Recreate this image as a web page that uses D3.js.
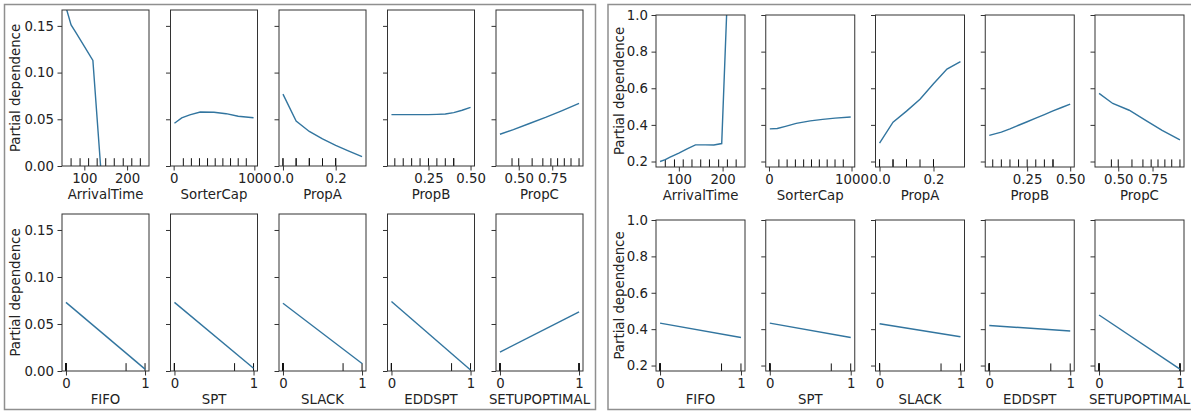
<!DOCTYPE html>
<html>
<head>
<meta charset="utf-8">
<script src="https://cdn.jsdelivr.net/npm/d3@7"></script>
<style>
  body { margin: 0; background: #fff; }
  text { font-family: "DejaVu Sans", sans-serif; fill: #222; }
  .tick text { font-size: 13.3px; }
  .tick line { stroke: #333; }
</style>
</head>
<body>
<div class="chart"></div>
<script>
const width = 1191, height = 412;

const features = ["ArrivalTime", "SorterCap", "PropA", "PropB", "PropC",
  "FIFO", "SPT", "SLACK", "EDDSPT", "SETUPOPTIMAL"];

// grid values (x) per feature
const gridArrival = [57, 69, 80, 100, 120, 138, 160, 180, 198, 210, 242];
const gridSorter = [10, 100, 200, 330, 500, 650, 800, 990];
const gridPropA = [0, 0.05, 0.1, 0.15, 0.2, 0.25, 0.3];
const gridPropB = [0.03, 0.1, 0.15, 0.2, 0.25, 0.3, 0.35, 0.4, 0.45, 0.5];
const gridPropC = [0.36, 0.46, 0.58, 0.7, 0.82, 0.95];
const gridBinary = [0, 1];

// partial dependence, left panel
const pdArrivalL = [0.17, 0.151, 0.143, 0.128, 0.113, 0.0, -0.03, -0.04, -0.05, -0.05, -0.06];
const pdSorterL = [0.0457, 0.0515, 0.0548, 0.0578, 0.0575, 0.056, 0.0532, 0.0517];
const pdPropAL = [0.077, 0.048, 0.037, 0.029, 0.022, 0.016, 0.01];
const pdPropBL = [0.055, 0.055, 0.055, 0.055, 0.055, 0.0553, 0.0557, 0.0572, 0.0597, 0.0628];
const pdPropCL = [0.034, 0.039, 0.0455, 0.052, 0.059, 0.067];
const pdFifoL = [0.073, 0.002];
const pdSptL = [0.073, 0.003];
const pdSlackL = [0.072, 0.008];
const pdEddsptL = [0.074, 0.001];
const pdSetupL = [0.02, 0.063];

// partial dependence, right panel
const pdArrivalR = [0.2, 0.21, 0.224, 0.246, 0.27, 0.291, 0.291, 0.29, 0.298, 1.05, 1.2];
const pdSorterR = [0.378, 0.38, 0.392, 0.408, 0.422, 0.43, 0.437, 0.443];
const pdPropAR = [0.3, 0.415, 0.475, 0.54, 0.625, 0.705, 0.745];
const pdPropBR = [0.343, 0.36, 0.378, 0.398, 0.417, 0.437, 0.456, 0.476, 0.495, 0.513];
const pdPropCR = [0.572, 0.517, 0.48, 0.425, 0.37, 0.318];
const pdFifoR = [0.433, 0.354];
const pdSptR = [0.433, 0.354];
const pdSlackR = [0.43, 0.358];
const pdEddsptR = [0.42, 0.39];
const pdSetupR = [0.478, 0.18];

// deciles (rug)
const decArrival = [69, 90, 110, 130, 150, 170, 191, 211, 231];
const decSorter = [120, 220, 320, 420, 515, 610, 705, 800, 900];
const decPropA = [0, 0, 0.05, 0.05, 0.1, 0.1, 0.15, 0.2, 0.2];
const decPropB = [0.05, 0.1, 0.15, 0.2, 0.25, 0.3, 0.35, 0.4, 0.4];
const decPropC = [0.45, 0.5, 0.6, 0.68, 0.74, 0.79, 0.84, 0.89, 0.95];
const decBinary = [0, 0, 0, 0, 0, 0, 0, 0.76, 1];
const decSetup = [0, 0, 0, 0, 0, 1, 1, 1, 1];

// x tick labels
const xTicksArrival = [100, 200];
const xTicksSorter = [0, 1000];
const xTicksPropA = [0.0, 0.2];
const xTicksPropB = [0.25, 0.5];
const xTicksPropC = [0.5, 0.75];
const xTicksBinary = [0, 1];

// y axes
const yDomainL = [0, 0.167];
const yTicksL = [0, 0.05, 0.1, 0.15];
const yDomainR = [0.17, 1.0];
const yTicksR = [0.2, 0.4, 0.6, 0.8, 1.0];

const grids = [gridArrival, gridSorter, gridPropA, gridPropB, gridPropC,
  gridBinary, gridBinary, gridBinary, gridBinary, gridBinary];
const deciles = [decArrival, decSorter, decPropA, decPropB, decPropC,
  decBinary, decBinary, decBinary, decBinary, decSetup];
const xTicks = [xTicksArrival, xTicksSorter, xTicksPropA, xTicksPropB, xTicksPropC,
  xTicksBinary, xTicksBinary, xTicksBinary, xTicksBinary, xTicksBinary];
const xFormats = ["d", "d", ".1f", ".2f", ".2f", "d", "d", "d", "d", "d"];

const panels = [
  {
    border: [4.5, 4.5, 591, 405], left: 62, step: 108.5, w: 87,
    rows: [[10, 166], [214, 371]], labelX: 15,
    yDomain: yDomainL, yTicks: yTicksL, yFormat: ".2f",
    values: [pdArrivalL, pdSorterL, pdPropAL, pdPropBL, pdPropCL,
      pdFifoL, pdSptL, pdSlackL, pdEddsptL, pdSetupL]
  },
  {
    border: [608, 4.5, 584, 405], left: 656, step: 109.75, w: 89,
    rows: [[15, 167], [220, 371]], labelX: 619,
    yDomain: yDomainR, yTicks: yTicksR, yFormat: ".1f",
    values: [pdArrivalR, pdSorterR, pdPropAR, pdPropBR, pdPropCR,
      pdFifoR, pdSptR, pdSlackR, pdEddsptR, pdSetupR]
  }
];

const svg = d3.select(".chart").append("svg")
  .attr("width", width).attr("height", height);

const defs = svg.append("defs");

panels.forEach((p, pi) => {
  svg.append("rect")
    .attr("x", p.border[0]).attr("y", p.border[1])
    .attr("width", p.border[2]).attr("height", p.border[3])
    .attr("fill", "none").attr("stroke", "#8f8f8f").attr("stroke-width", 1.5);

  features.forEach((f, fi) => {
    const row = Math.floor(fi / 5), col = fi % 5;
    const top = p.rows[row][0], bottom = p.rows[row][1];
    const x0 = p.left + col * p.step;
    const grid = grids[fi];
    const ext = d3.extent(grid);
    const pad = (ext[1] - ext[0]) * 0.05;

    const x = d3.scaleLinear().domain([ext[0] - pad, ext[1] + pad]).range([x0, x0 + p.w]);
    const y = d3.scaleLinear().domain(p.yDomain).range([bottom, top]);

    const g = svg.append("g");
    const clipId = "clip-" + pi + "-" + fi;
    defs.append("clipPath").attr("id", clipId)
      .append("rect")
      .attr("x", x0).attr("y", top).attr("width", p.w).attr("height", bottom - top);

    // rug of deciles
    g.append("g")
      .selectAll("line")
      .data(deciles[fi])
      .join("line")
      .attr("x1", (d) => x(d)).attr("x2", (d) => x(d))
      .attr("y1", bottom).attr("y2", bottom - (bottom - top) * 0.05)
      .attr("stroke", "#111").attr("stroke-width", 1);

    // partial dependence line
    const line = d3.line()
      .x((d) => x(d[0]))
      .y((d) => y(d[1]));

    g.append("path")
      .datum(d3.zip(grid, p.values[fi]))
      .attr("clip-path", "url(#" + clipId + ")")
      .attr("d", line)
      .attr("fill", "none")
      .attr("stroke", "#32759f")
      .attr("stroke-width", 1.4);

    // axes
    const xAxis = g.append("g")
      .attr("transform", "translate(0," + bottom + ")")
      .call(d3.axisBottom(x).tickValues(xTicks[fi]).tickFormat(d3.format(xFormats[fi]))
        .tickSize(4.5).tickPadding(3.5).tickSizeOuter(0));
    xAxis.select(".domain").remove();

    const yAxis = g.append("g")
      .attr("transform", "translate(" + x0 + ",0)")
      .call(d3.axisLeft(y).tickValues(p.yTicks)
        .tickFormat(col === 0 ? d3.format(p.yFormat) : () => "")
        .tickSize(4.5).tickPadding(3.5).tickSizeOuter(0));
    yAxis.select(".domain").remove();

    g.append("rect")
      .attr("x", x0).attr("y", top)
      .attr("width", p.w).attr("height", bottom - top)
      .attr("fill", "none").attr("stroke", "#333").attr("stroke-width", 1);

    g.append("text")
      .attr("x", x0 + p.w / 2).attr("y", bottom + 33)
      .attr("text-anchor", "middle")
      .style("font-size", "13.3px")
      .text(f);

    if (col === 0) {
      g.append("text")
        .attr("transform", "translate(" + p.labelX + "," + (top + bottom) / 2 + ") rotate(-90)")
        .attr("text-anchor", "middle")
        .attr("dy", "0.35em")
        .style("font-size", "13.3px")
        .text("Partial dependence");
    }
  });
});
</script>
</body>
</html>
